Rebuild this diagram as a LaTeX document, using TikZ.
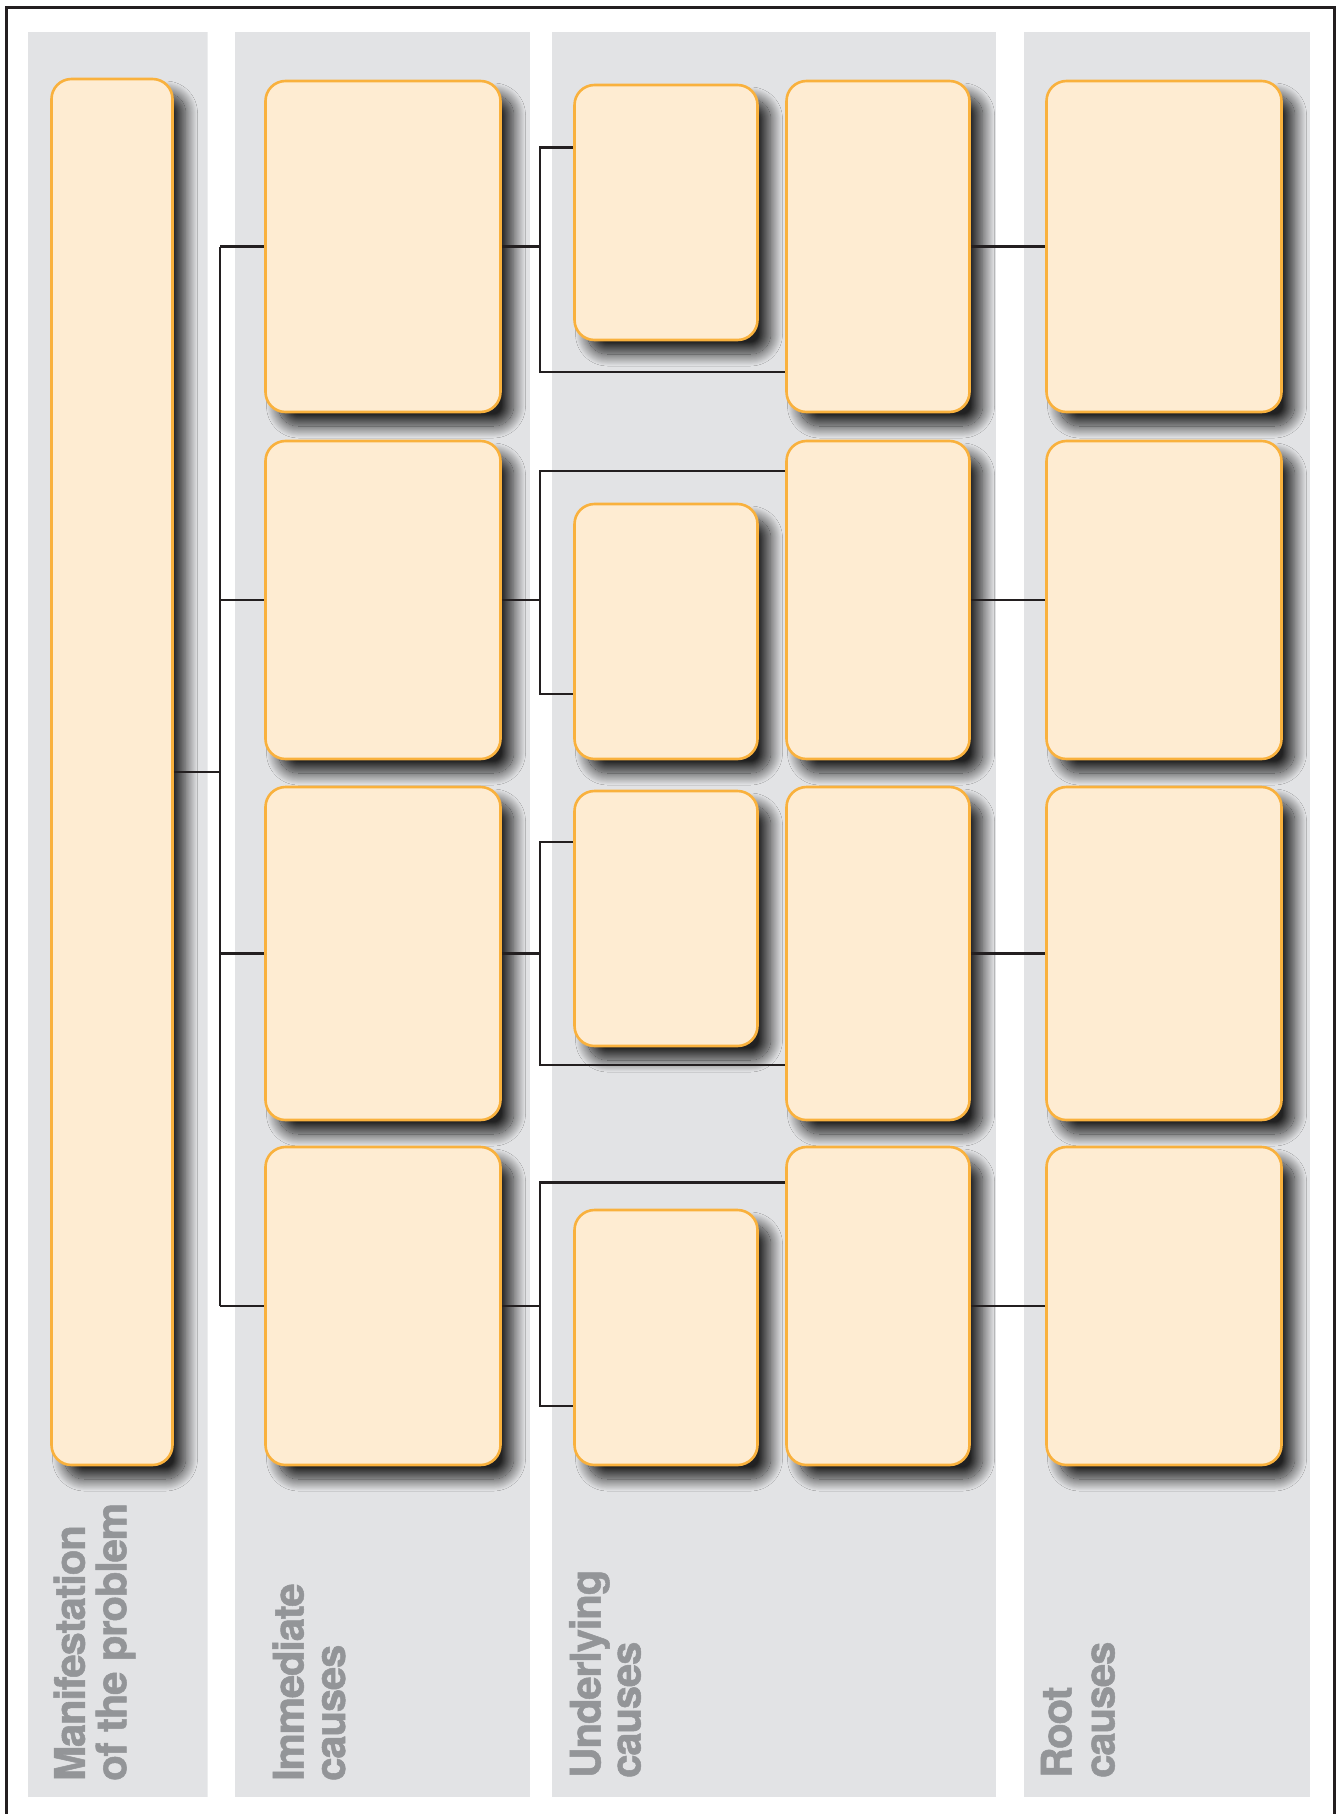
\documentclass[tikz,border=0pt]{standalone}
\usepackage{fontspec}
\newfontfamily\headfont{texgyreheros-bold.otf}[LetterSpace=-3, FakeBold=1.2]
\usetikzlibrary{shadows.blur}
\definecolor{bandgrey}{RGB}{226,227,229}
\definecolor{cardfill}{RGB}{254,236,210}
\definecolor{cardline}{RGB}{249,177,61}
\definecolor{headgrey}{RGB}{147,149,152}
\definecolor{wireblack}{RGB}{35,31,32}

\begin{document}
\begin{tikzpicture}[
    x=1pt, y=-1pt,
    band/.style={fill=bandgrey},
    card/.style={rectangle, rounded corners=20pt, draw=cardline, line width=2.6pt,
        fill=cardfill, inner sep=0pt,
        blur shadow={shadow xshift=13pt, shadow yshift=-14pt,
            shadow blur radius=12pt, shadow blur steps=28, shadow opacity=85}},
    wide/.style={card, minimum width=235pt},
    narrow/.style={card, minimum width=183pt},
    wire/.style={draw=wireblack, line width=2.4pt},
    coltitle/.style={rotate=90, anchor=base west, inner sep=0pt, text=headgrey,
        font=\headfont\fontsize{42}{42}\selectfont}
]
\useasboundingbox (0,0) rectangle (1339,1814);

% Frame
\draw[wireblack, line width=2.5pt] (6.3,1814) -- (6.3,7.5) -- (1334.5,7.5) -- (1334.5,1814);

% Manifestation of the problem
\begin{scope}
  \clip (28,31.7) rectangle (207.7,1796.7);
  \fill[band] (28,31.7) rectangle (207.7,1796.7);
  \node[card, minimum width=121pt, minimum height=1386pt] (manif) at (112,772) {};
\end{scope}
\node[coltitle] (head1a) at (84.8,1781) {Manifestation};
\node[coltitle] (head1b) at (126.3,1781) {of the problem};

% Immediate causes
\begin{scope}
  \clip (234.8,31.7) rectangle (530,1796.7);
  \fill[band] (234.8,31.7) rectangle (530,1796.7);
  \node[wide, minimum height=331pt] (imm1) at (383,246.5) {};
  \node[wide, minimum height=318pt] (imm2) at (383,600) {};
  \node[wide, minimum height=333pt] (imm3) at (383,953.5) {};
  \node[wide, minimum height=318pt] (imm4) at (383,1306) {};
\end{scope}
\node[coltitle] (head2a) at (303.6,1781) {Immediate};
\node[coltitle] (head2b) at (345,1781) {causes};

% Underlying causes
\begin{scope}
  \clip (551.8,31.7) rectangle (996.4,1796.7);
  \fill[band] (551.8,31.7) rectangle (996.4,1796.7);
  \node[narrow, minimum height=255pt] (sml1) at (666,212.5) {};
  \node[narrow, minimum height=331pt] (lrg1) at (878,246.5) {};
  \node[narrow, minimum height=255pt] (sml2) at (666,631.5) {};
  \node[narrow, minimum height=318pt] (lrg2) at (878,600) {};
  \node[narrow, minimum height=255pt] (sml3) at (666,918.5) {};
  \node[narrow, minimum height=333pt] (lrg3) at (878,953.5) {};
  \node[narrow, minimum height=255pt] (sml4) at (666,1337.5) {};
  \node[narrow, minimum height=318pt] (lrg4) at (878,1306) {};
\end{scope}
\node[coltitle] (head3a) at (600.5,1778) {Underlying};
\node[coltitle] (head3b) at (640.6,1778) {causes};

% Root causes
\begin{scope}
  \clip (1024,31.7) rectangle (1310,1796.7);
  \fill[band] (1024,31.7) rectangle (1310,1796.7);
  \node[wide, minimum height=331pt] (root1) at (1164,246.5) {};
  \node[wide, minimum height=318pt] (root2) at (1164,600) {};
  \node[wide, minimum height=333pt] (root3) at (1164,953.5) {};
  \node[wide, minimum height=318pt] (root4) at (1164,1306) {};
\end{scope}
\node[coltitle] (head4a) at (1071.5,1778) {Root};
\node[coltitle] (head4b) at (1114.5,1778) {causes};

% Manifestation -> immediate causes
\coordinate (mbus) at (220,772);
\draw[wire] (manif.east) -- (mbus);
\draw[wire] (imm1.west -| mbus) -- (imm4.west -| mbus);
\foreach \r in {1,...,4}
  \draw[wire] (imm\r.west -| mbus) -- (imm\r.west);

% Immediate -> underlying -> root
\coordinate (top1) at (540,147.7);  \coordinate (bot1) at (540,371.7);
\coordinate (top2) at (540,470.7);  \coordinate (bot2) at (540,694);
\coordinate (top3) at (540,841.7);  \coordinate (bot3) at (540,1064.7);
\coordinate (top4) at (540,1182.3); \coordinate (bot4) at (540,1406);
\foreach \r/\up/\dn in {1/sml/lrg, 2/lrg/sml, 3/sml/lrg, 4/lrg/sml} {
  \draw[wire] (imm\r.east) -- (imm\r.east -| top\r);
  \draw[wire] (\up\r.west |- top\r) -- (top\r) -- (bot\r) -- (\dn\r.west |- bot\r);
  \draw[wire] (lrg\r.east) -- (root\r.west);
}

\end{tikzpicture}
\end{document}
